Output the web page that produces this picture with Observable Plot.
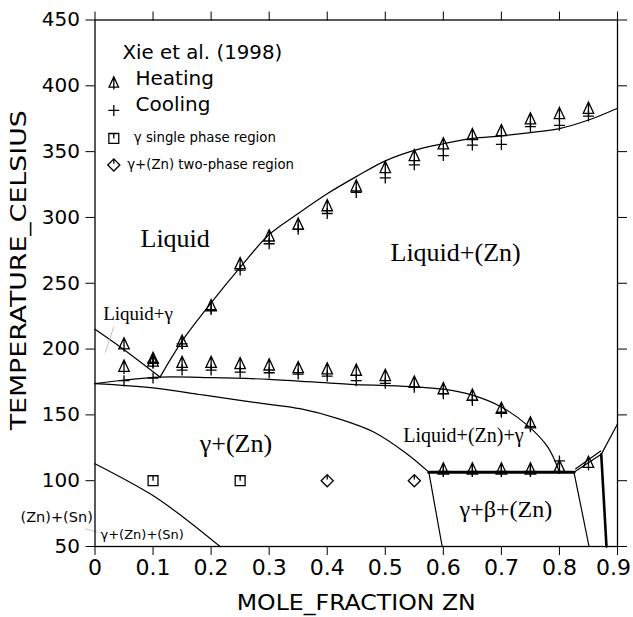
<!DOCTYPE html>
<html>
<head>
<meta charset="utf-8">
<script src="https://cdn.jsdelivr.net/npm/d3@7"></script>
<script src="https://cdn.jsdelivr.net/npm/@observablehq/plot@0.6"></script>
<style>
  html, body { margin: 0; padding: 0; background: #fff; }
  #chart svg { display: block; }
</style>
</head>
<body>
<div id="chart"></div>
<script>
// ---- axis ticks ----
const xTicks = [0, 0.1, 0.2, 0.3, 0.4, 0.5, 0.6, 0.7, 0.8, 0.9];
const xTickLabels = ["0", "0.1", "0.2", "0.3", "0.4", "0.5", "0.6", "0.7", "0.8", "0.9"];
const yTicks = [50, 100, 150, 200, 250, 300, 350, 400, 450];
const xTitle = "MOLE_FRACTION ZN";
const yTitle = "TEMPERATURE_CELSIUS";

// ---- measured points, Xie et al. (1998) ----
const heatingX = [0.05, 0.05, 0.1, 0.1, 0.15, 0.15, 0.2, 0.2, 0.25, 0.25, 0.3, 0.3, 0.35, 0.35,
  0.4, 0.4, 0.45, 0.45, 0.5, 0.5, 0.55, 0.55, 0.6, 0.6, 0.6, 0.65, 0.65, 0.65,
  0.7, 0.7, 0.7, 0.75, 0.75, 0.75, 0.8, 0.8, 0.85, 0.85];
const heatingT = [204, 187, 193, 191, 206, 190, 233, 190, 265, 189, 286, 188, 295, 186,
  309, 185, 324, 184, 338, 180, 347, 175, 356, 170, 109, 363, 165, 109,
  366, 155, 109, 375, 144, 109, 379, 111, 383, 114];

const coolingX = [0.05, 0.1, 0.1, 0.15, 0.15, 0.2, 0.2, 0.25, 0.25, 0.3, 0.3, 0.35, 0.35,
  0.4, 0.4, 0.45, 0.45, 0.5, 0.5, 0.55, 0.55, 0.6, 0.6, 0.6, 0.65, 0.65, 0.65,
  0.7, 0.7, 0.7, 0.75, 0.75, 0.75, 0.8, 0.8, 0.85];
const coolingT = [176, 190, 178, 204, 184, 230, 184, 260, 182.5, 280, 182, 291, 181,
  303, 179.5, 319, 176, 330, 174, 340, 171, 347, 166, 107, 355, 161, 107,
  355.5, 152, 107, 369, 141, 107, 370, 115, 377];

const gammaSingleX = [0.1, 0.25];
const gammaSingleT = [100, 100];
const twoPhaseX = [0.4, 0.55];
const twoPhaseT = [100, 100];

// ---- calculated phase boundaries [mole fraction Zn, °C] ----
const liquidusLeft = [[0, 215], [0.05, 199.5], [0.112, 178.7]];
const liquidusRight = [[0.112, 178.7], [0.15, 206], [0.2, 235], [0.25, 262], [0.3, 287], [0.35, 303],
  [0.4, 318], [0.45, 331], [0.5, 343], [0.55, 351], [0.6, 356], [0.65, 360], [0.7, 362],
  [0.75, 364.5], [0.8, 367.5], [0.85, 374], [0.9, 383]];
const threePhaseTop = [[0, 173.7], [0.05, 176.5], [0.112, 178.7], [0.2, 178.3], [0.3, 177], [0.44, 173.2],
  [0.52, 172], [0.6, 169.5], [0.65, 165], [0.7, 156], [0.745, 142], [0.78, 125.5], [0.8, 106.5]];
const gammaSolvus = [[0, 173.7], [0.1, 170.5], [0.18, 165.5], [0.25, 161], [0.3, 158], [0.353, 154.7],
  [0.42, 147], [0.48, 137], [0.537, 120.5], [0.575, 106.5]];
const gammaLow = [[0.575, 106.5], [0.598, 50]];
const snSolvus = [[0, 112.9], [0.095, 90], [0.152, 72.3], [0.2155, 50]];
const eutectic = [[0.575, 106.5], [0.825, 106.5]];
const zincSide = [[0.825, 106.5], [0.851, 50]];
const betaTop = [[0.825, 106.5], [0.872, 120], [0.9, 143]];
const betaTop2 = [[0.828, 109], [0.871, 122.5]];
const betaEdge = [[0.872, 120], [0.881, 50]];
const leaderLiquidGamma = [[0.032, 216.6], [0.018, 197.6]];
const leaderZnSn = [[-0.016, 63.4], [0.004, 60.9]];

// ---- region and legend labels ----
const regionLabels = [
  {x: 0.0784, T: 277.4, text: "Liquid", size: 26},
  {x: 0.509, T: 266.6, text: "Liquid+(Zn)", size: 26},
  {x: 0.0141, T: 222.3, text: "Liquid+γ", size: 19},
  {x: 0.1805, T: 121.7, text: "γ+(Zn)", size: 26},
  {x: 0.531, T: 129.3, text: "Liquid+(Zn)+γ", size: 20},
  {x: 0.628, T: 72.3, text: "γ+β+(Zn)", size: 24}
];
const sansLabels = [
  {x: -0.1283, T: 68.5, text: "(Zn)+(Sn)", size: 14.5},
  {x: 0.0095, T: 55.9, text: "γ+(Zn)+(Sn)", size: 13},
  {x: 0.0474, T: 420.7, text: "Xie et al. (1998)", size: 19.8},
  {x: 0.0698, T: 400.3, text: "Heating", size: 20},
  {x: 0.0698, T: 380.8, text: "Cooling", size: 20},
  {x: 0.0668, T: 357.2, text: "γ single phase region", size: 13.3},
  {x: 0.0555, T: 337.0, text: "γ+(Zn) two-phase region", size: 13.3}
];
const legendX = 0.0324;
const legendT = {heating: 402.6, cooling: 381.3, single: 360, two: 339.9};

// ---- marker shapes: outline with a short centre stem ----
const triStem = {
  draw(ctx, size) {
    const r = Math.sqrt(size / Math.PI);
    const h = r * 1.1;
    ctx.moveTo(0, -h);
    ctx.lineTo(r * 0.95, h * 0.85);
    ctx.lineTo(-r * 0.95, h * 0.85);
    ctx.closePath();
    ctx.moveTo(0, -h);
    ctx.lineTo(0, h * 1.3);
  }
};
const plusMark = {
  draw(ctx, size) {
    const r = Math.sqrt(size / Math.PI);
    ctx.moveTo(-r, 0); ctx.lineTo(r, 0);
    ctx.moveTo(0, -r); ctx.lineTo(0, r);
  }
};
const squareStem = {
  draw(ctx, size) {
    const r = Math.sqrt(size / Math.PI) * 0.9;
    ctx.moveTo(-r, -r); ctx.lineTo(r, -r); ctx.lineTo(r, r); ctx.lineTo(-r, r); ctx.closePath();
    ctx.moveTo(0, -r); ctx.lineTo(0, 0);
  }
};
const diamondStem = {
  draw(ctx, size) {
    const r = Math.sqrt(size / Math.PI) * 1.1;
    ctx.moveTo(0, -r); ctx.lineTo(r, 0); ctx.lineTo(0, r); ctx.lineTo(-r, 0); ctx.closePath();
    ctx.moveTo(0, -r); ctx.lineTo(0, -r * 0.2);
  }
};

const pts = (xs, ts) => xs.map((x, i) => ({x, T: ts[i]}));
const heating = pts(heatingX, heatingT);
const cooling = pts(coolingX, coolingT);
const gammaSingle = pts(gammaSingleX, gammaSingleT);
const twoPhase = pts(twoPhaseX, twoPhaseT);

const px = d => d[0], pt = d => d[1];
const curve = (data, opts = {}) => Plot.line(data, {x: px, y: pt, stroke: "black", strokeWidth: 1.2, curve: "catmull-rom", ...opts});
const seg = (data, opts = {}) => Plot.line(data, {x: px, y: pt, stroke: "black", strokeWidth: 1.2, ...opts});
const markerStyle = {stroke: "black", fill: "none", strokeWidth: 1.3};
const xLabel = d => xTickLabels[xTicks.findIndex(t => Math.abs(t - d) < 1e-9)];
const lastTick = xTicks[xTicks.length - 1];

const chart = Plot.plot({
  width: 633,
  height: 617,
  marginLeft: 94.5,
  marginRight: 16,
  marginTop: 19.5,
  marginBottom: 71,
  style: {fontFamily: "DejaVu Sans", background: "white", color: "black"},
  x: {domain: [0, 0.9]},
  y: {domain: [50, 450]},
  marks: [
    // boundaries
    seg(liquidusLeft, {curve: "catmull-rom"}),
    curve(liquidusRight),
    curve(threePhaseTop),
    curve(gammaSolvus),
    seg(gammaLow),
    curve(snSolvus),
    seg(eutectic, {strokeWidth: 3}),
    seg(zincSide),
    seg(betaTop),
    seg(betaTop2),
    seg(betaEdge, {strokeWidth: 2.6}),
    seg(leaderLiquidGamma, {stroke: "#b0b0b0", strokeWidth: 0.8}),
    seg(leaderZnSn, {stroke: "#b0b0b0", strokeWidth: 0.8, clip: false}),

    // measurements
    Plot.dot(heating, {x: "x", y: "T", symbol: triStem, r: 5.5, ...markerStyle}),
    Plot.dot(cooling, {x: "x", y: "T", symbol: plusMark, r: 5.5, ...markerStyle}),
    Plot.dot(gammaSingle, {x: "x", y: "T", symbol: squareStem, r: 5.5, ...markerStyle}),
    Plot.dot(twoPhase, {x: "x", y: "T", symbol: diamondStem, r: 5.5, ...markerStyle}),

    // legend markers
    Plot.dot([{x: legendX, T: legendT.heating}], {x: "x", y: "T", symbol: triStem, r: 5, ...markerStyle}),
    Plot.dot([{x: legendX, T: legendT.cooling}], {x: "x", y: "T", symbol: plusMark, r: 5.5, ...markerStyle}),
    Plot.dot([{x: legendX, T: legendT.single}], {x: "x", y: "T", symbol: squareStem, r: 5.5, ...markerStyle}),
    Plot.dot([{x: legendX, T: legendT.two}], {x: "x", y: "T", symbol: diamondStem, r: 5.5, ...markerStyle}),

    // labels
    Plot.text(regionLabels, {x: "x", y: "T", text: "text", fontSize: d => d.size, textAnchor: "start", lineAnchor: "bottom", fontFamily: "Liberation Serif", fill: "black"}),
    Plot.text(sansLabels, {x: "x", y: "T", text: "text", fontSize: d => d.size, textAnchor: "start", lineAnchor: "bottom", fill: "black", clip: false}),

    // axes and frame
    Plot.axisX({ticks: xTicks, tickSize: 9, tickPadding: 4, fontSize: 22, label: null,
      tickFormat: d => (Math.abs(d - lastTick) < 1e-9 ? "" : xLabel(d))}),
    // the last label sits a little inward so it stays inside the page
    Plot.axisX({ticks: [lastTick], tickSize: 0, tickPadding: 13, fontSize: 22, dx: -4, label: null, tickFormat: xLabel}),
    Plot.axisX({anchor: "top", ticks: xTicks, tickSize: 9, tickFormat: () => "", label: null}),
    Plot.axisY({ticks: yTicks, tickSize: 9, tickPadding: 6, fontSize: 20, label: null}),
    Plot.axisY({anchor: "right", ticks: yTicks, tickSize: 9, tickFormat: () => "", label: null}),
    Plot.frame({stroke: "black", strokeWidth: 1.3}),
    Plot.text([xTitle], {frameAnchor: "bottom", dy: 63, fontSize: 22, fill: "black"}),
    Plot.text([yTitle], {frameAnchor: "left", textAnchor: "middle", rotate: -90, dx: -76, dy: -13, fontSize: 21, fill: "black"})
  ]
});

// stretch the axis titles to their set lengths
const titleLengths = {[xTitle]: 239, [yTitle]: 320};
d3.select(chart).selectAll("text")
  .filter(function() { return this.textContent in titleLengths; })
  .attr("textLength", function() { return titleLengths[this.textContent]; })
  .attr("lengthAdjust", "spacingAndGlyphs");

document.getElementById("chart").appendChild(chart);
</script>
</body>
</html>
